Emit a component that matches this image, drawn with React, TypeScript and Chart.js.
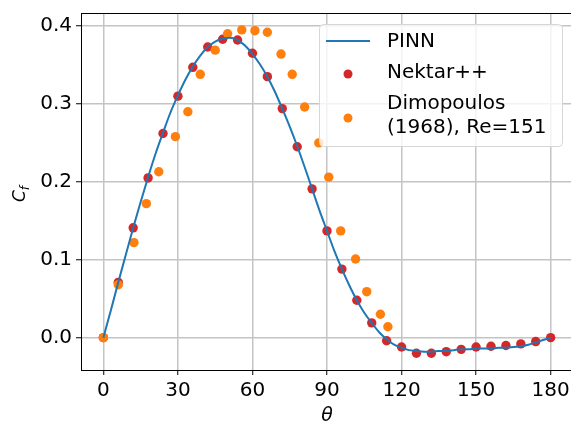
import React, { useEffect, useRef } from 'react';
import { Chart, registerables } from 'chart.js';

Chart.register(...registerables);

// ---- data ----
const pinnTheta = [0, 3, 6, 9, 12, 15, 18, 21, 24, 27, 30, 33, 36, 39, 42, 45, 48, 51, 54, 57, 60, 63, 66, 69, 72, 75, 78, 81, 84, 87, 90, 93, 96, 99, 102, 105, 108, 111, 114, 117, 120, 123, 126, 129, 132, 135, 138, 141, 144, 147, 150, 153, 156, 159, 162, 165, 168, 171, 174, 177, 180];
const pinnCf = [0, 0.035, 0.071, 0.106, 0.141, 0.174, 0.206, 0.236, 0.263, 0.289, 0.311, 0.331, 0.348, 0.362, 0.373, 0.380, 0.384, 0.385, 0.382, 0.375, 0.364, 0.351, 0.335, 0.316, 0.294, 0.271, 0.246, 0.219, 0.191, 0.163, 0.137, 0.111, 0.088, 0.067, 0.048, 0.032, 0.019, 0.007, -0.002, -0.009, -0.013, -0.016, -0.017, -0.018, -0.018, -0.017, -0.017, -0.016, -0.015, -0.015, -0.014, -0.014, -0.014, -0.013, -0.013, -0.012, -0.011, -0.009, -0.006, -0.003, 0];

const nektarTheta = [0, 6, 12, 18, 24, 30, 36, 42, 48, 54, 60, 66, 72, 78, 84, 90, 96, 102, 108, 114, 120, 126, 132, 138, 144, 150, 156, 162, 168, 174, 180];
const nektarCf = [0, 0.071, 0.141, 0.205, 0.262, 0.310, 0.347, 0.373, 0.383, 0.382, 0.365, 0.335, 0.294, 0.245, 0.191, 0.137, 0.088, 0.048, 0.019, -0.004, -0.012, -0.020, -0.020, -0.018, -0.015, -0.012, -0.011, -0.010, -0.008, -0.005, 0.0];

const dimoTheta = [0, 6, 12.3, 17.3, 22.3, 29, 34, 39, 45, 50, 55.7, 61, 66, 71.5, 76, 81, 86.7, 90.7, 95.5, 101.5, 106, 111.5, 114.5];
const dimoCf = [0, 0.068, 0.122, 0.172, 0.213, 0.258, 0.290, 0.338, 0.369, 0.390, 0.395, 0.394, 0.392, 0.364, 0.338, 0.296, 0.250, 0.206, 0.137, 0.101, 0.059, 0.030, 0.014];

const xTicks = [0, 30, 60, 90, 120, 150, 180];
const yTicks = [0, 0.1, 0.2, 0.3, 0.4];

const labels = ['PINN', 'Nektar++', 'Dimopoulos\n(1968), Re=151'];
const colors = ['#1f77b4', '#d62728', '#ff7f0e'];

const FONT = '"DejaVu Sans", "Liberation Sans", sans-serif';

const toPts = (xs: number[], ys: number[]) => xs.map((x, i) => ({ x, y: ys[i] }));

const decorPlugin = {
  id: 'decor',
  afterDraw(chart: any) {
    const { ctx, chartArea } = chart;
    const { left, right, top, bottom } = chartArea;
    ctx.save();
    // top & right spines
    ctx.strokeStyle = '#000';
    ctx.lineWidth = 1;
    ctx.beginPath();
    ctx.moveTo(left, top + 0.5);
    ctx.lineTo(right, top + 0.5);
    ctx.moveTo(right - 0.5, top);
    ctx.lineTo(right - 0.5, bottom);
    ctx.stroke();

    // x title
    ctx.fillStyle = '#000';
    ctx.font = `italic 19px ${FONT}`;
    ctx.textAlign = 'center';
    ctx.textBaseline = 'alphabetic';
    ctx.fillText('θ', (left + right) / 2, 421);

    // y title C_f
    ctx.save();
    ctx.translate(25, 194);
    ctx.rotate(-Math.PI / 2);
    ctx.font = `italic 17px ${FONT}`;
    const wC = ctx.measureText('C').width;
    ctx.font = `italic 12px ${FONT}`;
    const wf = ctx.measureText('f').width;
    const start = -(wC + wf) / 2;
    ctx.textAlign = 'left';
    ctx.font = `italic 17px ${FONT}`;
    ctx.fillText('C', start, 0);
    ctx.font = `italic 12px ${FONT}`;
    ctx.fillText('f', start + wC, 4);
    ctx.restore();

    // legend
    const bx = 319.5, by = 24.5, bw = 243, bh = 122, r = 4;
    ctx.beginPath();
    ctx.moveTo(bx + r, by);
    ctx.lineTo(bx + bw - r, by);
    ctx.quadraticCurveTo(bx + bw, by, bx + bw, by + r);
    ctx.lineTo(bx + bw, by + bh - r);
    ctx.quadraticCurveTo(bx + bw, by + bh, bx + bw - r, by + bh);
    ctx.lineTo(bx + r, by + bh);
    ctx.quadraticCurveTo(bx, by + bh, bx, by + bh - r);
    ctx.lineTo(bx, by + r);
    ctx.quadraticCurveTo(bx, by, bx + r, by);
    ctx.closePath();
    ctx.fillStyle = 'rgba(255,255,255,0.8)';
    ctx.fill();
    ctx.strokeStyle = '#d6d6d6';
    ctx.lineWidth = 1;
    ctx.stroke();

    const ds = chart.data.datasets;
    // handle PINN
    ctx.strokeStyle = ds[0].borderColor;
    ctx.lineWidth = 2;
    ctx.beginPath();
    ctx.moveTo(326, 41);
    ctx.lineTo(370, 41);
    ctx.stroke();
    // markers
    const markY = [74, 118];
    [1, 2].forEach((k, j) => {
      ctx.fillStyle = ds[k].backgroundColor;
      ctx.beginPath();
      ctx.arc(348, markY[j], 4.5, 0, Math.PI * 2);
      ctx.fill();
    });
    // texts
    ctx.fillStyle = '#000';
    ctx.font = `20px ${FONT}`;
    ctx.textAlign = 'left';
    ctx.textBaseline = 'middle';
    const rows = [[42], [73], [104, 128]];
    ds.forEach((d: any, k: number) => {
      const lines = String(d.label).split('\n');
      lines.forEach((ln: string, i: number) => ctx.fillText(ln, 387, rows[k][i]));
    });
    ctx.restore();
  },
};

export default function App() {
  const ref = useRef<HTMLCanvasElement | null>(null);
  useEffect(() => {
    if (!ref.current) return;
    const tickFont = { family: FONT, size: 20 };
    const chart = new Chart(ref.current, {
      type: 'scatter',
      data: {
        datasets: [
          {
            type: 'line',
            label: labels[0],
            data: toPts(pinnTheta, pinnCf),
            borderColor: colors[0],
            backgroundColor: colors[0],
            borderWidth: 2,
            pointRadius: 0,
            cubicInterpolationMode: 'monotone',
            showLine: true,
            order: 0,
          } as any,
          {
            label: labels[1],
            data: toPts(nektarTheta, nektarCf),
            backgroundColor: colors[1],
            borderColor: colors[1],
            borderWidth: 0,
            pointRadius: 4.7,
            order: 2,
          },
          {
            label: labels[2],
            data: toPts(dimoTheta, dimoCf),
            backgroundColor: colors[2],
            borderColor: colors[2],
            borderWidth: 0,
            pointRadius: 4.7,
            order: 1,
          },
        ],
      },
      options: {
        animation: false,
        responsive: true,
        maintainAspectRatio: false,
        layout: { padding: { left: 0, right: 7, top: 13, bottom: 0 } },
        plugins: { legend: { display: false }, tooltip: { enabled: false } },
        scales: {
          x: {
            type: 'linear',
            min: -9,
            max: 189,
            afterBuildTicks: (s: any) => {
              s.ticks = xTicks.map((v) => ({ value: v }));
            },
            afterFit: (s: any) => {
              s.height = 52;
              s.paddingLeft = 0;
              s.paddingRight = 0;
            },
            ticks: {
              font: tickFont,
              color: '#000',
              padding: 4,
              maxRotation: 0,
              autoSkip: false,
              callback: (v: any) => String(v),
            },
            grid: {
              color: '#c4c4c4',
              lineWidth: 1.5,
              tickColor: '#000',
              tickLength: 5,
              tickWidth: 1,
            },
            border: { color: '#000', width: 1 },
          },
          y: {
            type: 'linear',
            min: -0.0415,
            max: 0.4167,
            afterBuildTicks: (s: any) => {
              s.ticks = yTicks.map((v) => ({ value: v }));
            },
            afterFit: (s: any) => {
              s.width = 81;
              s.paddingTop = 0;
              s.paddingBottom = 0;
            },
            ticks: {
              font: tickFont,
              color: '#000',
              padding: 4,
              autoSkip: false,
              callback: (v: any) => Number(v).toFixed(1),
            },
            grid: {
              color: '#c4c4c4',
              lineWidth: 1.5,
              tickColor: '#000',
              tickLength: 5,
              tickWidth: 1,
            },
            border: { color: '#000', width: 1 },
          },
        },
      },
      plugins: [decorPlugin],
    });
    return () => chart.destroy();
  }, []);

  return (
    <div style={{ position: 'fixed', left: 0, top: 0, width: 571, height: 422, overflow: 'hidden', background: '#fff' }}>
      <div style={{ position: 'relative', width: 580, height: 422 }}>
        <canvas ref={ref} />
      </div>
    </div>
  );
}
